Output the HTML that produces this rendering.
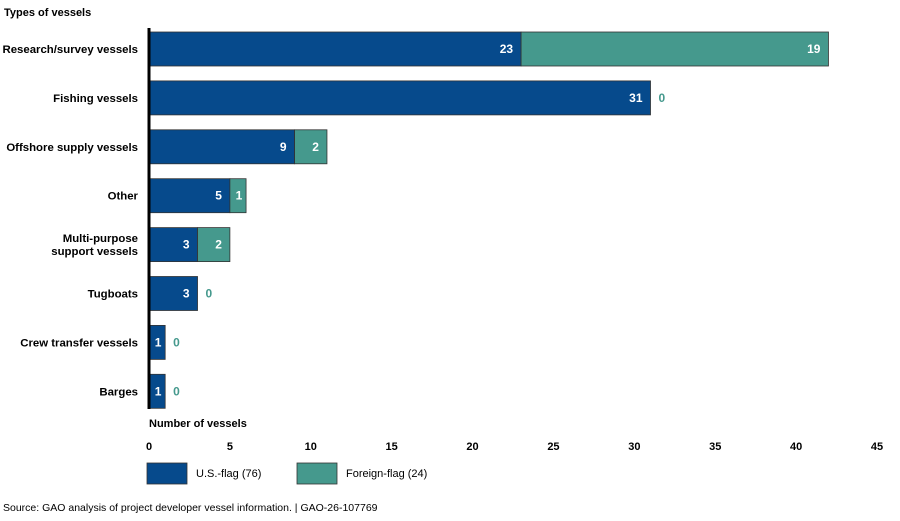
<!DOCTYPE html>
<html><head><meta charset="utf-8"><style>
body{margin:0;background:#fff;font-family:"Liberation Sans",Arial,sans-serif}
svg text{font-family:"Liberation Sans",Arial,sans-serif;font-weight:bold}
</style></head><body>
<svg id="chart" width="900" height="516" xmlns="http://www.w3.org/2000/svg">
<text x="4" y="16" font-size="11" fill="#000">Types of vessels</text>
<g id="bars"></g>
<line x1="149" y1="28" x2="149" y2="409" stroke="#000" stroke-width="3"/>
<text x="149" y="427" font-size="11">Number of vessels</text>
<g id="ticks"></g>
<rect x="147" y="463" width="40" height="21" fill="#064a8c" stroke="#333" stroke-width="0.8"/>
<text x="196" y="477" font-size="11" style="font-weight:normal">U.S.-flag (76)</text>
<rect x="297" y="463" width="40" height="21" fill="#45998d" stroke="#333" stroke-width="0.8"/>
<text x="346" y="477" font-size="11" style="font-weight:normal">Foreign-flag (24)</text>
<text x="3" y="511" font-size="10.5" style="font-weight:normal">Source: GAO analysis of project developer vessel information.  |  GAO-26-107769</text>
</svg>
<script>
const categories=[["Research/survey vessels"],["Fishing vessels"],["Offshore supply vessels"],["Other"],["Multi-purpose","support vessels"],["Tugboats"],["Crew transfer vessels"],["Barges"]];
const usFlag=[23,31,9,5,3,3,1,1];
const foreignFlag=[19,0,2,1,2,0,0,0];
const ticks=[0,5,10,15,20,25,30,35,40,45];
const NS="http://www.w3.org/2000/svg";
const x=v=>149+v*(728/45);
const yc=i=>49+i*48.9;
const bh=34;
function mk(t,a,p){const e=document.createElementNS(NS,t);for(const k in a)e.setAttribute(k,a[k]);p.appendChild(e);return e;}
function valAttrs(x0,x1,cy){const w=x1-x0;return w<30?{x:(x0+x1)/2+1,y:cy+4,'text-anchor':'middle','font-size':12,fill:'#fff'}:{x:x1-8,y:cy+4,'text-anchor':'end','font-size':12,fill:'#fff'};}
const g=document.getElementById('bars');
categories.forEach((c,i)=>{
  const cy=yc(i);
  const lab=mk('text',{x:138,'text-anchor':'end','font-size':11.4,fill:'#000'},g);
  
  
  c.forEach((s,j)=>{const ts=mk('tspan',{x:138,y:cy+4+(j-(c.length-1)/2)*13},lab);ts.textContent=s;});
  const u=mk('rect',{x:x(0),y:cy-bh/2,width:x(usFlag[i])-x(0),height:bh,fill:'#064a8c',stroke:'#333','stroke-width':0.8},g);
  
  
  const ut=mk('text',valAttrs(x(0),x(usFlag[i]),cy),g);ut.textContent=usFlag[i];
  
  
  if(foreignFlag[i]>0){
    const f=mk('rect',{x:x(usFlag[i]),y:cy-bh/2,width:x(usFlag[i]+foreignFlag[i])-x(usFlag[i]),height:bh,fill:'#45998d',stroke:'#333','stroke-width':0.8},g);
    
    
    const ft=mk('text',valAttrs(x(usFlag[i]),x(usFlag[i]+foreignFlag[i]),cy),g);ft.textContent=foreignFlag[i];
    
    
  } else {
    const ft=mk('text',{x:x(usFlag[i])+8,y:cy+4,'font-size':12,fill:'#45998d'},g);ft.textContent=foreignFlag[i];
    
    
  }
});
const tg=document.getElementById('ticks');
ticks.forEach(t=>{const e=mk('text',{x:x(t),y:450,'text-anchor':'middle','font-size':11},tg);e.textContent=t;

});
</script>
</body></html>
